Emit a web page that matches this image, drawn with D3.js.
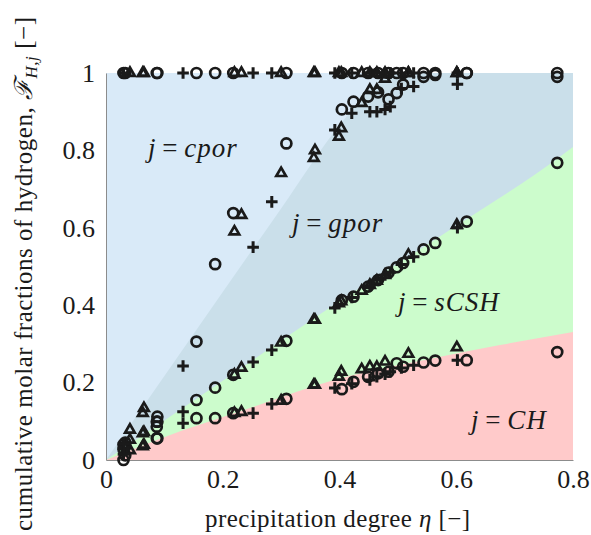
<!DOCTYPE html>
<html>
<head>
<meta charset="utf-8">
<script src="https://cdn.jsdelivr.net/npm/d3@7"></script>
<style>
  body { margin: 0; background: #fff; }
  text { font-family: "Liberation Serif", "DejaVu Serif", serif; fill: #1a1a1a; }
</style>
</head>
<body>
<div id="main"></div>
<script>
var ctx = {
    w: 591,
    h: 535,
    left: 106,
    right: 573,
    top: 73,
    bottom: 460,
    ink: "#1a1a1a",
    font: 25
};

// axis ticks
var etaTicks = [0, 0.2, 0.4, 0.6, 0.8];
var fTicks = [0, 0.2, 0.4, 0.6, 0.8, 1];

// upper edges of the coloured bands
var chEdgeEta = [0, 0.087, 0.258, 0.401, 0.55, 0.675, 0.8];
var chEdgeF = [0, 0.052, 0.14, 0.211, 0.26, 0.297, 0.331];
var cshEdgeEta = [0, 0.2, 0.4, 0.6, 0.77, 0.8];
var cshEdgeF = [0, 0.205, 0.41, 0.605, 0.775, 0.809];
var gporEdgeEta = [0, 0.1, 0.2, 0.3, 0.4, 0.45, 0.5, 0.8];
var gporEdgeF = [0, 0.217, 0.434, 0.65, 0.865, 0.95, 1, 1];

// circles: precipitation degree and cumulative fractions (CH, +sCSH, +gpor)
var circleEta = [0.030, 0.033, 0.087, 0.088, 0.155, 0.187, 0.218, 0.309, 0.404, 0.424, 0.449, 0.466, 0.484, 0.498, 0.509, 0.544, 0.564, 0.618, 0.773];
var circleCH = [0.000, 0.012, 0.056, 0.056, 0.108, 0.108, 0.121, 0.158, 0.183, 0.202, 0.215, 0.224, 0.228, 0.250, 0.241, 0.252, 0.257, 0.258, 0.279];
var circleCSH = [0.028, 0.035, 0.086, 0.099, 0.155, 0.187, 0.220, 0.308, 0.413, 0.422, 0.448, 0.465, 0.484, 0.498, 0.509, 0.544, 0.561, 0.616, 0.768];
var circleGpor = [0.040, 0.045, 0.099, 0.112, 0.306, 0.506, 0.638, 0.818, 0.906, 0.926, 0.939, 0.950, 0.932, 0.948, 0.970, 0.990, 0.995, 1.000, 0.990];

// triangles
var triEta = [0.041, 0.063, 0.065, 0.220, 0.232, 0.300, 0.356, 0.358, 0.399, 0.403, 0.438, 0.452, 0.464, 0.478, 0.518, 0.601];
var triCH = [0.025, 0.035, 0.039, 0.121, 0.124, 0.153, 0.194, 0.194, 0.215, 0.228, 0.234, 0.241, 0.240, 0.254, 0.274, 0.291];
var triCSH = [0.052, 0.069, 0.072, 0.220, 0.238, 0.303, 0.362, 0.362, 0.405, 0.410, 0.437, 0.452, 0.463, 0.478, 0.530, 0.607];
var triGpor = [0.078, 0.121, 0.134, 0.590, 0.633, 0.741, 0.780, 0.800, 0.835, 0.857, 0.922, 0.956, 0.956, 0.985, 1.000, 1.000];

// pluses
var plusEta = [0.030, 0.132, 0.252, 0.284, 0.392, 0.421, 0.452, 0.464, 0.478, 0.487, 0.506, 0.527, 0.602];
var plusCH = [0.015, 0.095, 0.121, 0.145, 0.186, 0.197, 0.207, 0.215, 0.222, 0.228, 0.238, 0.245, 0.258];
var plusCSH = [0.030, 0.125, 0.253, 0.284, 0.393, 0.420, 0.450, 0.465, 0.478, 0.485, 0.505, 0.525, 0.600];
var plusGpor = [0.042, 0.243, 0.550, 0.667, 0.853, 0.896, 0.900, 0.900, 0.906, 0.913, 0.960, 0.965, 0.971];

var createChart = function(svg) {
    var x = d3.scaleLinear().domain([0, 0.8]).range([ctx.left, ctx.right]);
    var y = d3.scaleLinear().domain([0, 1]).range([ctx.bottom, ctx.top]);

    var zip = function(a, b) { return a.map(function(v, i) { return [v, b[i]]; }); };
    var area = d3.area()
        .x(function(d) { return x(d[0]); })
        .y0(y(0))
        .y1(function(d) { return y(d[1]); })
        .curve(d3.curveMonotoneX);

    // background band: capillary pores
    svg.append("rect")
        .attr("x", x(0)).attr("y", y(1))
        .attr("width", x(0.8) - x(0)).attr("height", y(0) - y(1))
        .attr("fill", "#d9eaf8");

    var bands = [
        { pts: zip(gporEdgeEta, gporEdgeF), fill: "#cadfea" },
        { pts: zip(cshEdgeEta, cshEdgeF), fill: "#ccfccc" },
        { pts: zip(chEdgeEta, chEdgeF), fill: "#ffcaca" }
    ];
    svg.selectAll(".band")
        .data(bands)
        .enter().append("path")
        .attr("class", "band")
        .attr("d", function(d) { return area(d.pts); })
        .attr("fill", function(d) { return d.fill; });

    // axes, no tick marks
    var fmt = d3.format("~g");
    var gx = svg.append("g")
        .attr("transform", "translate(0," + ctx.bottom + ")")
        .call(d3.axisBottom(x).tickValues(etaTicks).tickFormat(fmt).tickSize(0).tickPadding(10));
    var gy = svg.append("g")
        .attr("transform", "translate(" + ctx.left + ",0)")
        .call(d3.axisLeft(y).tickValues(fTicks).tickFormat(fmt).tickSize(0).tickPadding(11));
    [gx, gy].forEach(function(g) {
        g.attr("font-family", null);
        g.select(".domain").attr("stroke", "#8c8c8c").attr("stroke-width", 1);
        g.selectAll("text")
            .attr("font-size", 26)
            .attr("fill", ctx.ink);
    });

    // region labels
    var regions = [
        { name: "cpor", x: 148, y: 157 },
        { name: "gpor", x: 292, y: 232 },
        { name: "sCSH", x: 398, y: 311 },
        { name: "CH", x: 471, y: 429 }
    ];
    regions.forEach(function(r) {
        var t = svg.append("text")
            .attr("x", r.x).attr("y", r.y)
            .attr("font-size", 27)
            .attr("xml:space", "preserve");
        t.append("tspan").attr("font-style", "italic").text("j");
        t.append("tspan").text(" = ");
        t.append("tspan").attr("font-style", "italic").attr("letter-spacing", 1).text(r.name);
    });

    // markers: each sample gives four cumulative levels, the last is always 1
    var series = [
        { kind: "circle", eta: circleEta, levels: [circleCH, circleCSH, circleGpor] },
        { kind: "triangle", eta: triEta, levels: [triCH, triCSH, triGpor] },
        { kind: "plus", eta: plusEta, levels: [plusCH, plusCSH, plusGpor] }
    ];
    var tri = d3.symbol().type(d3.symbolTriangle).size(40);
    var shapes = {
        circle: function(g) { g.append("circle").attr("r", 5); },
        triangle: function(g) { g.append("path").attr("d", tri()).attr("stroke-linejoin", "miter"); },
        plus: function(g) { g.append("path").attr("d", "M-5.8,0H5.8M0,-5.8V5.8").attr("stroke-width", 3); }
    };
    series.forEach(function(s) {
        var pts = [];
        s.eta.forEach(function(e, i) {
            s.levels.forEach(function(l) { pts.push([e, l[i]]); });
            pts.push([e, 1]);
        });
        svg.append("g")
            .selectAll("g")
            .data(pts)
            .enter().append("g")
            .attr("transform", function(d) { return "translate(" + x(d[0]) + "," + y(d[1]) + ")"; })
            .attr("fill", "none")
            .attr("stroke", ctx.ink)
            .attr("stroke-width", 2.7)
            .each(function() { shapes[s.kind](d3.select(this)); });
    });

    // axis titles
    var xt = svg.append("text")
        .attr("x", 205).attr("y", 527)
        .attr("font-size", ctx.font)
        .attr("textLength", 265)
        .attr("lengthAdjust", "spacing");
    xt.append("tspan").text("precipitation degree ");
    xt.append("tspan").attr("font-style", "italic").text("η");
    xt.append("tspan").text(" [−]");

    var yt = svg.append("text")
        .attr("transform", "translate(32,531) rotate(-90)")
        .attr("font-size", ctx.font)
        .attr("textLength", 514)
        .attr("lengthAdjust", "spacing");
    yt.append("tspan").text("cumulative molar fractions of hydrogen, ");
    yt.append("tspan").attr("font-family", "DejaVu Serif").attr("font-style", "italic").text("ℱ");
    yt.append("tspan").attr("font-style", "italic").attr("font-size", 17).attr("dy", 5).text("H,j");
    yt.append("tspan").attr("dy", -5).text(" [−]");
};

var createViz = function() {
    var svgEl = d3.select("#main").append("svg")
        .attr("width", ctx.w)
        .attr("height", ctx.h);
    createChart(svgEl);
};

createViz();
</script>
</body>
</html>
